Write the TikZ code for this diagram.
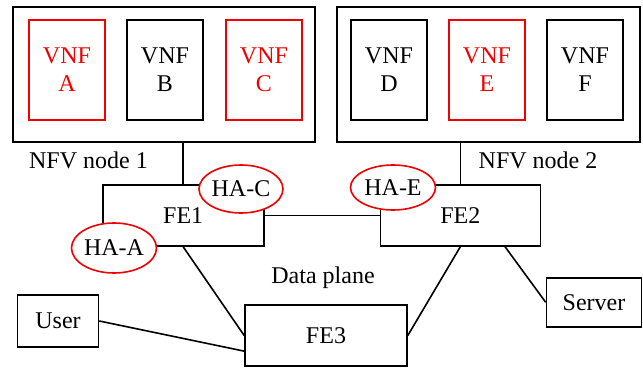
\documentclass[tikz,border=0pt]{standalone}
\usepackage{fontspec}
\setmainfont{Liberation Serif}
\usetikzlibrary{shapes.geometric,calc}
\definecolor{hared}{RGB}{240,0,0}
\begin{document}
\begin{tikzpicture}[x=1pt,y=-1pt,
  font=\fontsize{24}{28}\selectfont,
  box/.style={draw,line width=1.6pt,rectangle,inner sep=0pt},
  vnf/.style={box,minimum width=76pt,minimum height=100pt,align=center},
  vnfred/.style={vnf,draw=hared,text=hared},
  ha/.style={ellipse,draw=hared,line width=1.6pt,fill=white,inner sep=0pt},
  link/.style={line width=1.6pt}]
\useasboundingbox (0,0) rectangle (643,369);
% NFV nodes
\node[box,minimum width=302pt,minimum height=135pt] (nfv1) at (164,74.5) {};
\node[box,minimum width=303pt,minimum height=135pt] (nfv2) at (488.5,74.5) {};
\node[vnfred] (va) at (67,70) {VNF\\A};
\node[vnf] (vb) at (165,70) {VNF\\B};
\node[vnfred] (vc) at (264,70) {VNF\\C};
\node[vnf] (vd) at (389,70) {VNF\\D};
\node[vnfred] (ve) at (487,70) {VNF\\E};
\node[vnf] (vf) at (585,70) {VNF\\F};
\node[anchor=base] (l1) at (88.5,168) {NFV node 1};
\node[anchor=base] (l2) at (538,168) {NFV node 2};
% forwarding elements
\node[box,minimum width=161pt,minimum height=61pt] (fe1) at (183.2,215.5) {FE1};
\node[box,minimum width=160pt,minimum height=61pt] (fe2) at (460.3,215.5) {FE2};
\node[box,minimum width=162pt,minimum height=61pt] (fe3) at (326,335.5) {FE3};
\node[box,minimum width=81pt,minimum height=52pt] (user) at (58,321) {User};
\node[box,minimum width=95pt,minimum height=49pt] (server) at (594,302.3) {Server};
\node[anchor=base] (dp) at (323,283) {Data plane};
% connectors
\draw[link] (fe1.north) -- (fe1.north |- nfv1.south);
\draw[link] (fe2.north) -- (fe2.north |- nfv2.south);
\draw[link] (fe1.east) -- (fe2.west);
\draw[link] (fe1.south) -- (fe3.west);
\draw[link] (fe2.south) -- (fe3.east);
\draw[link] ([xshift=-36pt]fe2.south east) -- (server.west);
\draw[link] (user.east) -- ($(fe3.west)!0.5!(fe3.south west)$);
% HA ellipses
\node[ha,minimum width=84pt,minimum height=48pt] (hac) at (241,189) {HA-C};
\node[ha,minimum width=85pt,minimum height=50pt] (haa) at (114,248) {HA-A};
\node[ha,minimum width=85pt,minimum height=45pt] (hae) at (393,187.5) {HA-E};
\end{tikzpicture}
\end{document}
